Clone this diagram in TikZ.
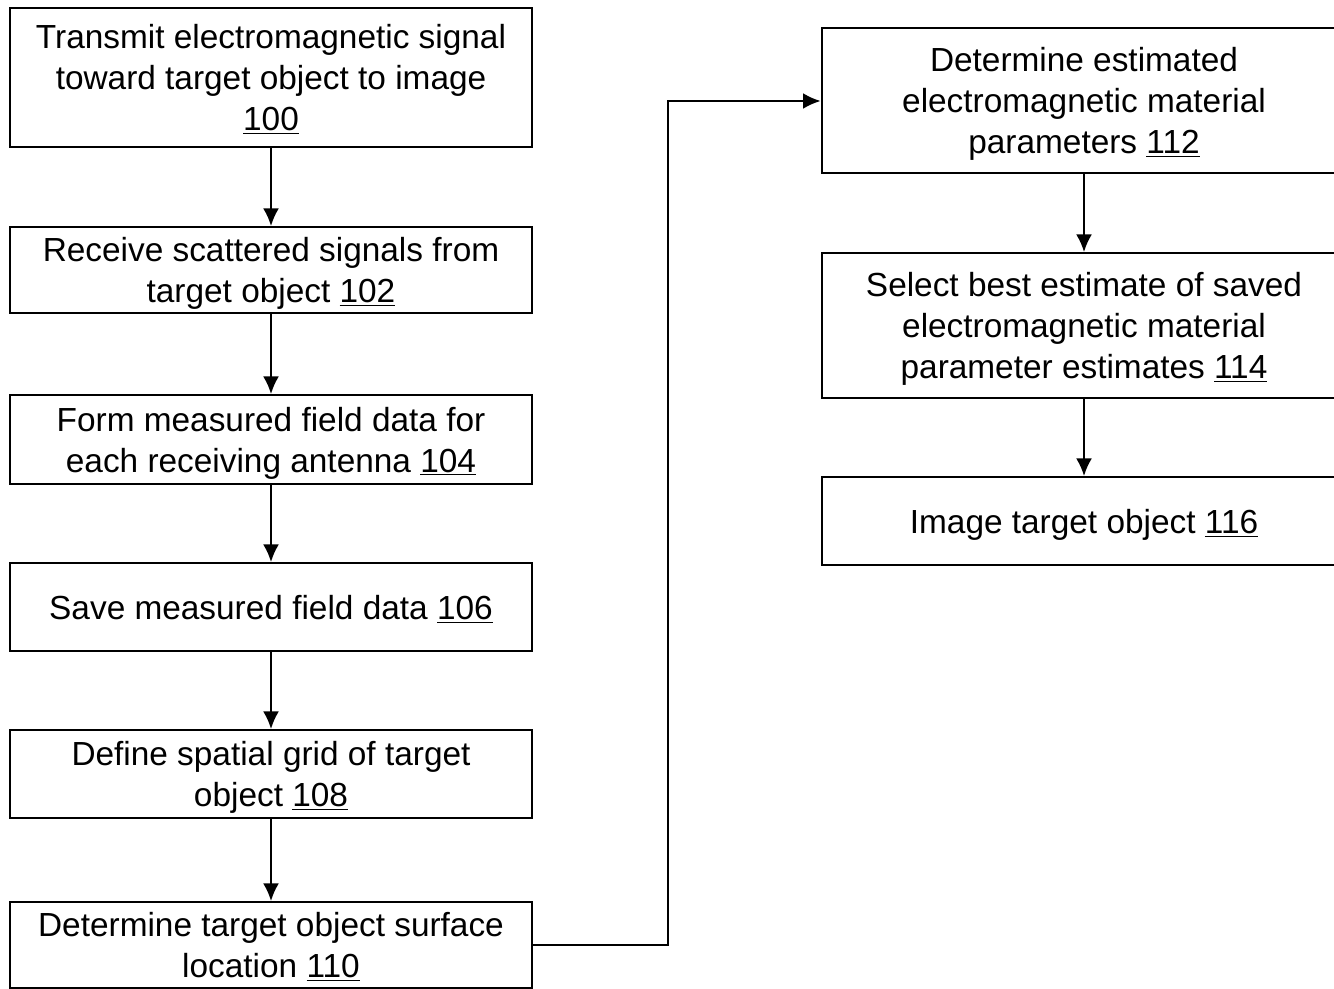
\documentclass[tikz,border=0pt]{standalone}
\usepackage{fontspec}
\setmainfont{Liberation Sans}
\usetikzlibrary{arrows.meta}

\begin{document}
\begin{tikzpicture}[x=0.02cm,y=-0.02cm]
            \tikzset{
            flow box/.style={rectangle,draw,line width=1.1pt,align=center,inner sep=0,
                text depth=-4pt,font=\fontsize{19}{23.3}\selectfont},
            flow arrow/.style={-{Latex[length=10pt,width=9pt]},line width=1.1pt}
            }
            \useasboundingbox (0,0) rectangle (1334,989);
            \clip (0,0) rectangle (1334,989);
            \node[flow box,minimum width=10.44cm,minimum height=2.78cm] (b100) at (271,77.5)
                {Transmit electromagnetic signal\\toward target object to image\\\underline{100}};
            \node[flow box,minimum width=10.44cm,minimum height=1.72cm] (b102) at (271,270)
                {Receive scattered signals from\\target object \underline{102}};
            \node[flow box,minimum width=10.44cm,minimum height=1.78cm] (b104) at (271,439.5)
                {Form measured field data for\\each receiving antenna \underline{104}};
            \node[flow box,minimum width=10.44cm,minimum height=1.76cm] (b106) at (271,607)
                {Save measured field data \underline{106}};
            \node[flow box,minimum width=10.44cm,minimum height=1.76cm] (b108) at (271,774)
                {Define spatial grid of target\\object \underline{108}};
            \node[flow box,minimum width=10.44cm,minimum height=1.72cm] (b110) at (271,945)
                {Determine target object surface\\location \underline{110}};
            \node[flow box,minimum width=10.5cm,minimum height=2.9cm] (b112) at (1084,100.5)
                {Determine estimated\\electromagnetic material\\parameters \underline{112}};
            \node[flow box,minimum width=10.5cm,minimum height=2.9cm] (b114) at (1084,325.5)
                {Select best estimate of saved\\electromagnetic material\\parameter estimates \underline{114}};
            \node[flow box,minimum width=10.5cm,minimum height=1.76cm] (b116) at (1084,521)
                {Image target object \underline{116}};
            \coordinate (t1) at (668,945);
            \coordinate (t2) at (668,101);

            \path[flow arrow]
            (b100) edge (b102)
            (b102) edge (b104)
            (b104) edge (b106)
            (b106) edge (b108)
            (b108) edge (b110)
            (b112) edge (b114)
            (b114) edge (b116)
            ;
            \draw[flow arrow] (b110.east) -- (t1) -- (t2) -- (b112.west |- t2);
        \end{tikzpicture}
\end{document}
